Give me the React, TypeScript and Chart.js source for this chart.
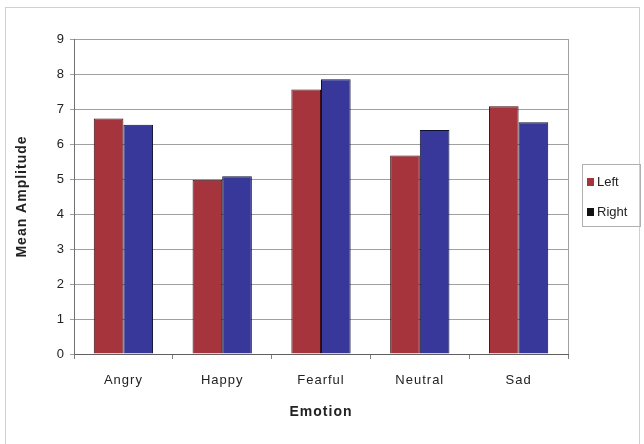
import React, { useEffect, useRef } from "react";
import { Chart, registerables } from "chart.js";

Chart.register(...registerables);

const emotions = ["Angry", "Happy", "Fearful", "Neutral", "Sad"];
const leftValues = [6.73, 4.98, 7.56, 5.67, 7.08];
const rightValues = [6.55, 5.08, 7.85, 6.4, 6.62];
const yTicks = [0, 1, 2, 3, 4, 5, 6, 7, 8, 9];

const FONT = "'Liberation Sans', Arial, sans-serif";

// Frame around the chart, plot border on the right, and the boxed legend.
const decorations = {
  id: "decorations",
  beforeDraw(chart: any) {
    const ctx = chart.ctx;
    ctx.save();
    ctx.fillStyle = "#ffffff";
    ctx.fillRect(0, 0, chart.width, chart.height);
    ctx.strokeStyle = "#d0d0d0";
    ctx.lineWidth = 1;
    ctx.strokeRect(5.5, 7.5, 634, 440);
    ctx.restore();
    (ctx as any).letterSpacing = "1px";
  },
  afterDraw(chart: any) {
    const ctx = chart.ctx;
    const a = chart.chartArea;
    ctx.save();
    ctx.strokeStyle = "#a0a0a0";
    ctx.lineWidth = 1;
    ctx.beginPath();
    ctx.moveTo(Math.round(a.right) + 0.5, a.top);
    ctx.lineTo(Math.round(a.right) + 0.5, a.bottom);
    ctx.stroke();

    // legend
    const bx = 582.5, by = 164.5, bw = 58, bh = 62;
    ctx.strokeStyle = "#b0b0b0";
    ctx.strokeRect(bx, by, bw, bh);
    const swatches = ["#a5343d", "#111111"];
    chart.data.datasets.forEach((ds: any, i: number) => {
      const cy = 182 + i * 30;
      ctx.fillStyle = swatches[i];
      ctx.fillRect(587, cy - 4, 7, 8);
      ctx.fillStyle = "#222";
      ctx.font = `13px ${FONT}`;
      (ctx as any).letterSpacing = "0px";
      ctx.textBaseline = "middle";
      ctx.textAlign = "left";
      ctx.fillText(ds.label, 597, cy);
    });
    ctx.restore();
  },
};

export default function App() {
  const ref = useRef<HTMLCanvasElement>(null);

  useEffect(() => {
    if (!ref.current) return;
    const chart = new Chart(ref.current, {
      type: "bar",
      data: {
        labels: emotions,
        datasets: [
          {
            label: "Left",
            data: leftValues,
            backgroundColor: "#a5343d",
            borderColor: "#3a0e12",
            borderWidth: 1,
            categoryPercentage: 0.6,
            barPercentage: 1,
          },
          {
            label: "Right",
            data: rightValues,
            backgroundColor: "#37389a",
            borderColor: "#0f0f30",
            borderWidth: 1,
            categoryPercentage: 0.6,
            barPercentage: 1,
          },
        ],
      },
      options: {
        responsive: false,
        animation: false,
        layout: { padding: { left: 14, right: 76, top: 39, bottom: 0 } },
        plugins: {
          legend: { display: false },
          tooltip: { enabled: false },
        },
        scales: {
          x: {
            grid: {
              offset: true,
              drawOnChartArea: false,
              drawTicks: true,
              tickLength: 5,
              color: "#808080",
            },
            border: { color: "#606060" },
            ticks: {
              color: "#222",
              font: { family: FONT, size: 13 },
              padding: 14,
            },
            title: {
              display: true,
              text: "Emotion",
              color: "#222",
              font: { family: FONT, size: 14, weight: "bold" },
              padding: { top: 4, bottom: 23 },
            },
            afterFit(scale: any) {
              scale.height = 90;
            },
          },
          y: {
            min: 0,
            max: 9,
            afterBuildTicks(scale: any) {
              scale.ticks = yTicks.map((v) => ({ value: v }));
            },
            grid: {
              color: "#a0a0a0",
              tickLength: 4,
              drawTicks: true,
            },
            border: { color: "#707070" },
            ticks: {
              color: "#222",
              font: { family: FONT, size: 13 },
              padding: 5,
            },
            title: {
              display: true,
              text: "Mean Amplitude",
              color: "#222",
              font: { family: FONT, size: 14, weight: "bold" },
              padding: 0,
            },
            afterFit(scale: any) {
              scale.width = 60;
            },
          },
        },
      },
      plugins: [decorations],
    });
    return () => chart.destroy();
  }, []);

  return (
    <div style={{ position: "absolute", left: 0, top: 0, width: 644, height: 444 }}>
      <canvas ref={ref} width={644} height={444} />
    </div>
  );
}
